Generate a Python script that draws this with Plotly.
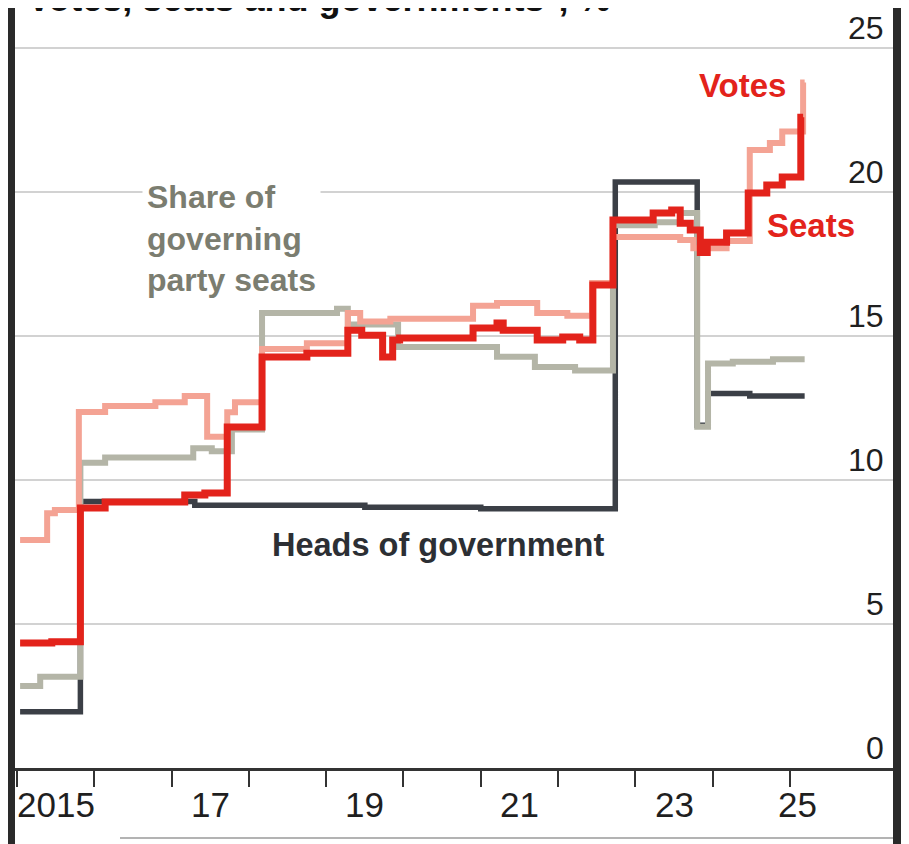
import plotly.graph_objects as go

# ---------------- data (decimal years, %) ----------------
heads_x = [2015.04, 2015.82, 2017.30, 2019.50, 2021.00, 2022.74, 2023.80, 2023.94, 2024.48, 2025.19]
heads_y = [1.95, 9.25, 9.12, 9.05, 9.00, 20.35, 11.90, 13.00, 12.92, 12.92]

share_x = [2015.04, 2015.30, 2015.82, 2016.14, 2017.28, 2017.52, 2017.78, 2018.17, 2019.14,
           2019.28, 2019.93, 2021.21, 2021.70, 2022.22, 2022.71, 2023.25, 2023.58, 2023.80,
           2023.94, 2024.26, 2024.78, 2025.19]
share_y = [2.85, 3.17, 10.60, 10.78, 11.10, 11.00, 11.75, 15.80, 15.95,
           15.40, 14.62, 14.28, 13.92, 13.80, 18.85, 18.95, 19.27, 11.85,
           14.05, 14.11, 14.19, 14.19]

votes_x = [2015.04, 2015.39, 2015.49, 2015.80, 2016.14, 2016.79, 2017.17, 2017.46, 2017.72,
           2017.82, 2018.17, 2018.75, 2019.28, 2019.44, 2019.83, 2020.90, 2021.21, 2021.73,
           2022.12, 2022.44, 2022.71, 2023.58, 2023.75, 2024.18, 2024.48, 2024.74, 2024.90,
           2025.17, 2025.19]
votes_y = [7.92, 8.85, 8.96, 12.36, 12.57, 12.70, 12.92, 11.50, 12.35,
           12.70, 14.55, 14.75, 15.80, 15.50, 15.60, 16.05, 16.15, 15.80,
           15.70, 16.84, 18.44, 18.33, 18.05, 18.30, 21.46, 21.70, 22.10,
           23.80, 23.80]

seats_x = [2015.04, 2015.45, 2015.82, 2016.14, 2017.17, 2017.43, 2017.72, 2018.17, 2018.75,
           2019.28, 2019.46, 2019.73, 2019.86, 2019.95, 2020.90, 2021.21, 2021.29, 2021.73,
           2022.06, 2022.28, 2022.45, 2022.71, 2023.23, 2023.47, 2023.58, 2023.71, 2023.84,
           2023.93, 2024.18, 2024.46, 2024.70, 2024.90, 2025.14, 2025.17]
seats_y = [4.34, 4.38, 9.03, 9.24, 9.48, 9.55, 11.84, 14.27, 14.40,
           15.20, 15.03, 14.27, 14.86, 14.93, 15.28, 15.45, 15.20, 14.86,
           14.97, 14.86, 16.77, 19.03, 19.27, 19.38, 18.92, 18.68, 17.90,
           18.26, 18.58, 19.97, 20.24, 20.52, 22.60, 22.60]

year_ticks = [2015, 2016, 2017, 2018, 2019, 2020, 2021, 2022, 2023, 2024, 2025]
year_label_pos = [2015.5, 2017.5, 2019.5, 2021.5, 2023.5, 2025.1]
year_label_text = ["2015", "17", "19", "21", "23", "25"]
y_ticks = [0, 5, 10, 15, 20, 25]

# ---------------- styling ----------------
FONT = "Liberation Sans, Arial, sans-serif"
C_HEADS = "#3b3f46"
C_SHARE = "#b4b5a7"
C_VOTES = "#f4a394"
C_SEATS = "#e3231b"

fig = go.Figure()
fig.add_trace(go.Scatter(x=heads_x, y=heads_y, mode="lines", line=dict(shape="hv", color=C_HEADS, width=5.5),
                         hoverinfo="skip", name="Heads of government"))
fig.add_trace(go.Scatter(x=share_x, y=share_y, mode="lines", line=dict(shape="hv", color=C_SHARE, width=6),
                         hoverinfo="skip", name="Share of governing party seats"))
fig.add_trace(go.Scatter(x=votes_x, y=votes_y, mode="lines", line=dict(shape="hv", color=C_VOTES, width=6),
                         hoverinfo="skip", name="Votes"))
fig.add_trace(go.Scatter(x=seats_x, y=seats_y, mode="lines", line=dict(shape="hv", color=C_SEATS, width=7),
                         hoverinfo="skip", name="Seats"))

annotations = []
# y labels above gridlines at right
for v in y_ticks:
    annotations.append(dict(x=0.991, xref="paper", y=v, yref="y", text=str(v), showarrow=False,
                            xanchor="right", yanchor="bottom", yshift=1, borderpad=0,
                            font=dict(family=FONT, size=32, color="#1f1f1f")))
# x labels between year ticks
for pos, txt in zip(year_label_pos, year_label_text):
    annotations.append(dict(x=pos, xref="x", y=0, yref="paper", text=txt, showarrow=False,
                            xanchor="center", yanchor="top", yshift=-15,
                            font=dict(family=FONT, size=35, color="#1f1f1f")))
# title (cropped at top)
annotations.append(dict(x=0.011, xref="paper", y=1, yref="paper", text="<b>Votes, seats and governments*, %</b>",
                        showarrow=False, xanchor="left", yanchor="bottom", yshift=-13,
                        font=dict(family=FONT, size=36, color="#111111")))
# series labels
annotations.append(dict(x=2016.615, xref="x", y=18.4, yref="y", text="<b>Share of<br>governing<br>party seats</b>",
                        showarrow=False, xanchor="left", yanchor="middle", align="left",
                        bgcolor="white", borderpad=4,
                        font=dict(family=FONT, size=32, color="#7b7d70")))
annotations.append(dict(x=2018.27, xref="x", y=7.74, yref="y", text="<b>Heads of government</b>",
                        showarrow=False, xanchor="left", yanchor="middle",
                        font=dict(family=FONT, size=32.5, color="#2c2f34")))
annotations.append(dict(x=2024.38, xref="x", y=23.7, yref="y", text="<b>Votes</b>",
                        showarrow=False, xanchor="center", yanchor="middle",
                        font=dict(family=FONT, size=33, color=C_SEATS)))
annotations.append(dict(x=2025.27, xref="x", y=18.85, yref="y", text="<b>Seats</b>",
                        showarrow=False, xanchor="center", yanchor="middle",
                        font=dict(family=FONT, size=33, color=C_SEATS)))

shapes = [
    # screenshot frame bars
    dict(type="rect", xref="paper", yref="paper", x0=-0.008, x1=0.0, y0=-0.12, y1=1.0,
         fillcolor="#2a2a2a", line=dict(width=0), layer="above"),
    dict(type="rect", xref="paper", yref="paper", x0=1.0, x1=1.0185, y0=-0.12, y1=1.0,
         fillcolor="#2a2a2a", line=dict(width=0), layer="above"),
    # thin rule at the very bottom
    dict(type="line", xref="paper", yref="paper", x0=0.1196, x1=1.0, y0=-0.0921, y1=-0.0921,
         line=dict(color="#9a9a9a", width=1.5)),
]

fig.update_layout(
    width=909, height=844,
    margin=dict(l=7, r=24, t=0, b=84),
    paper_bgcolor="white", plot_bgcolor="white",
    showlegend=False,
    font=dict(family=FONT),
    xaxis=dict(range=[2014.974, 2026.333], tickvals=year_ticks, showticklabels=False,
               ticks="outside", ticklen=16, tickwidth=2, tickcolor="#333333",
               showline=True, linecolor="#333333", linewidth=2.5, showgrid=False, zeroline=False,
               fixedrange=True),
    yaxis=dict(range=[0, 26.39], tickvals=y_ticks, showticklabels=False, showgrid=True,
               gridcolor="#d2d2d2", gridwidth=1.5, zeroline=False, showline=False, ticks="",
               fixedrange=True),
    annotations=annotations,
    shapes=shapes,
)

fig.write_html("out.html")
